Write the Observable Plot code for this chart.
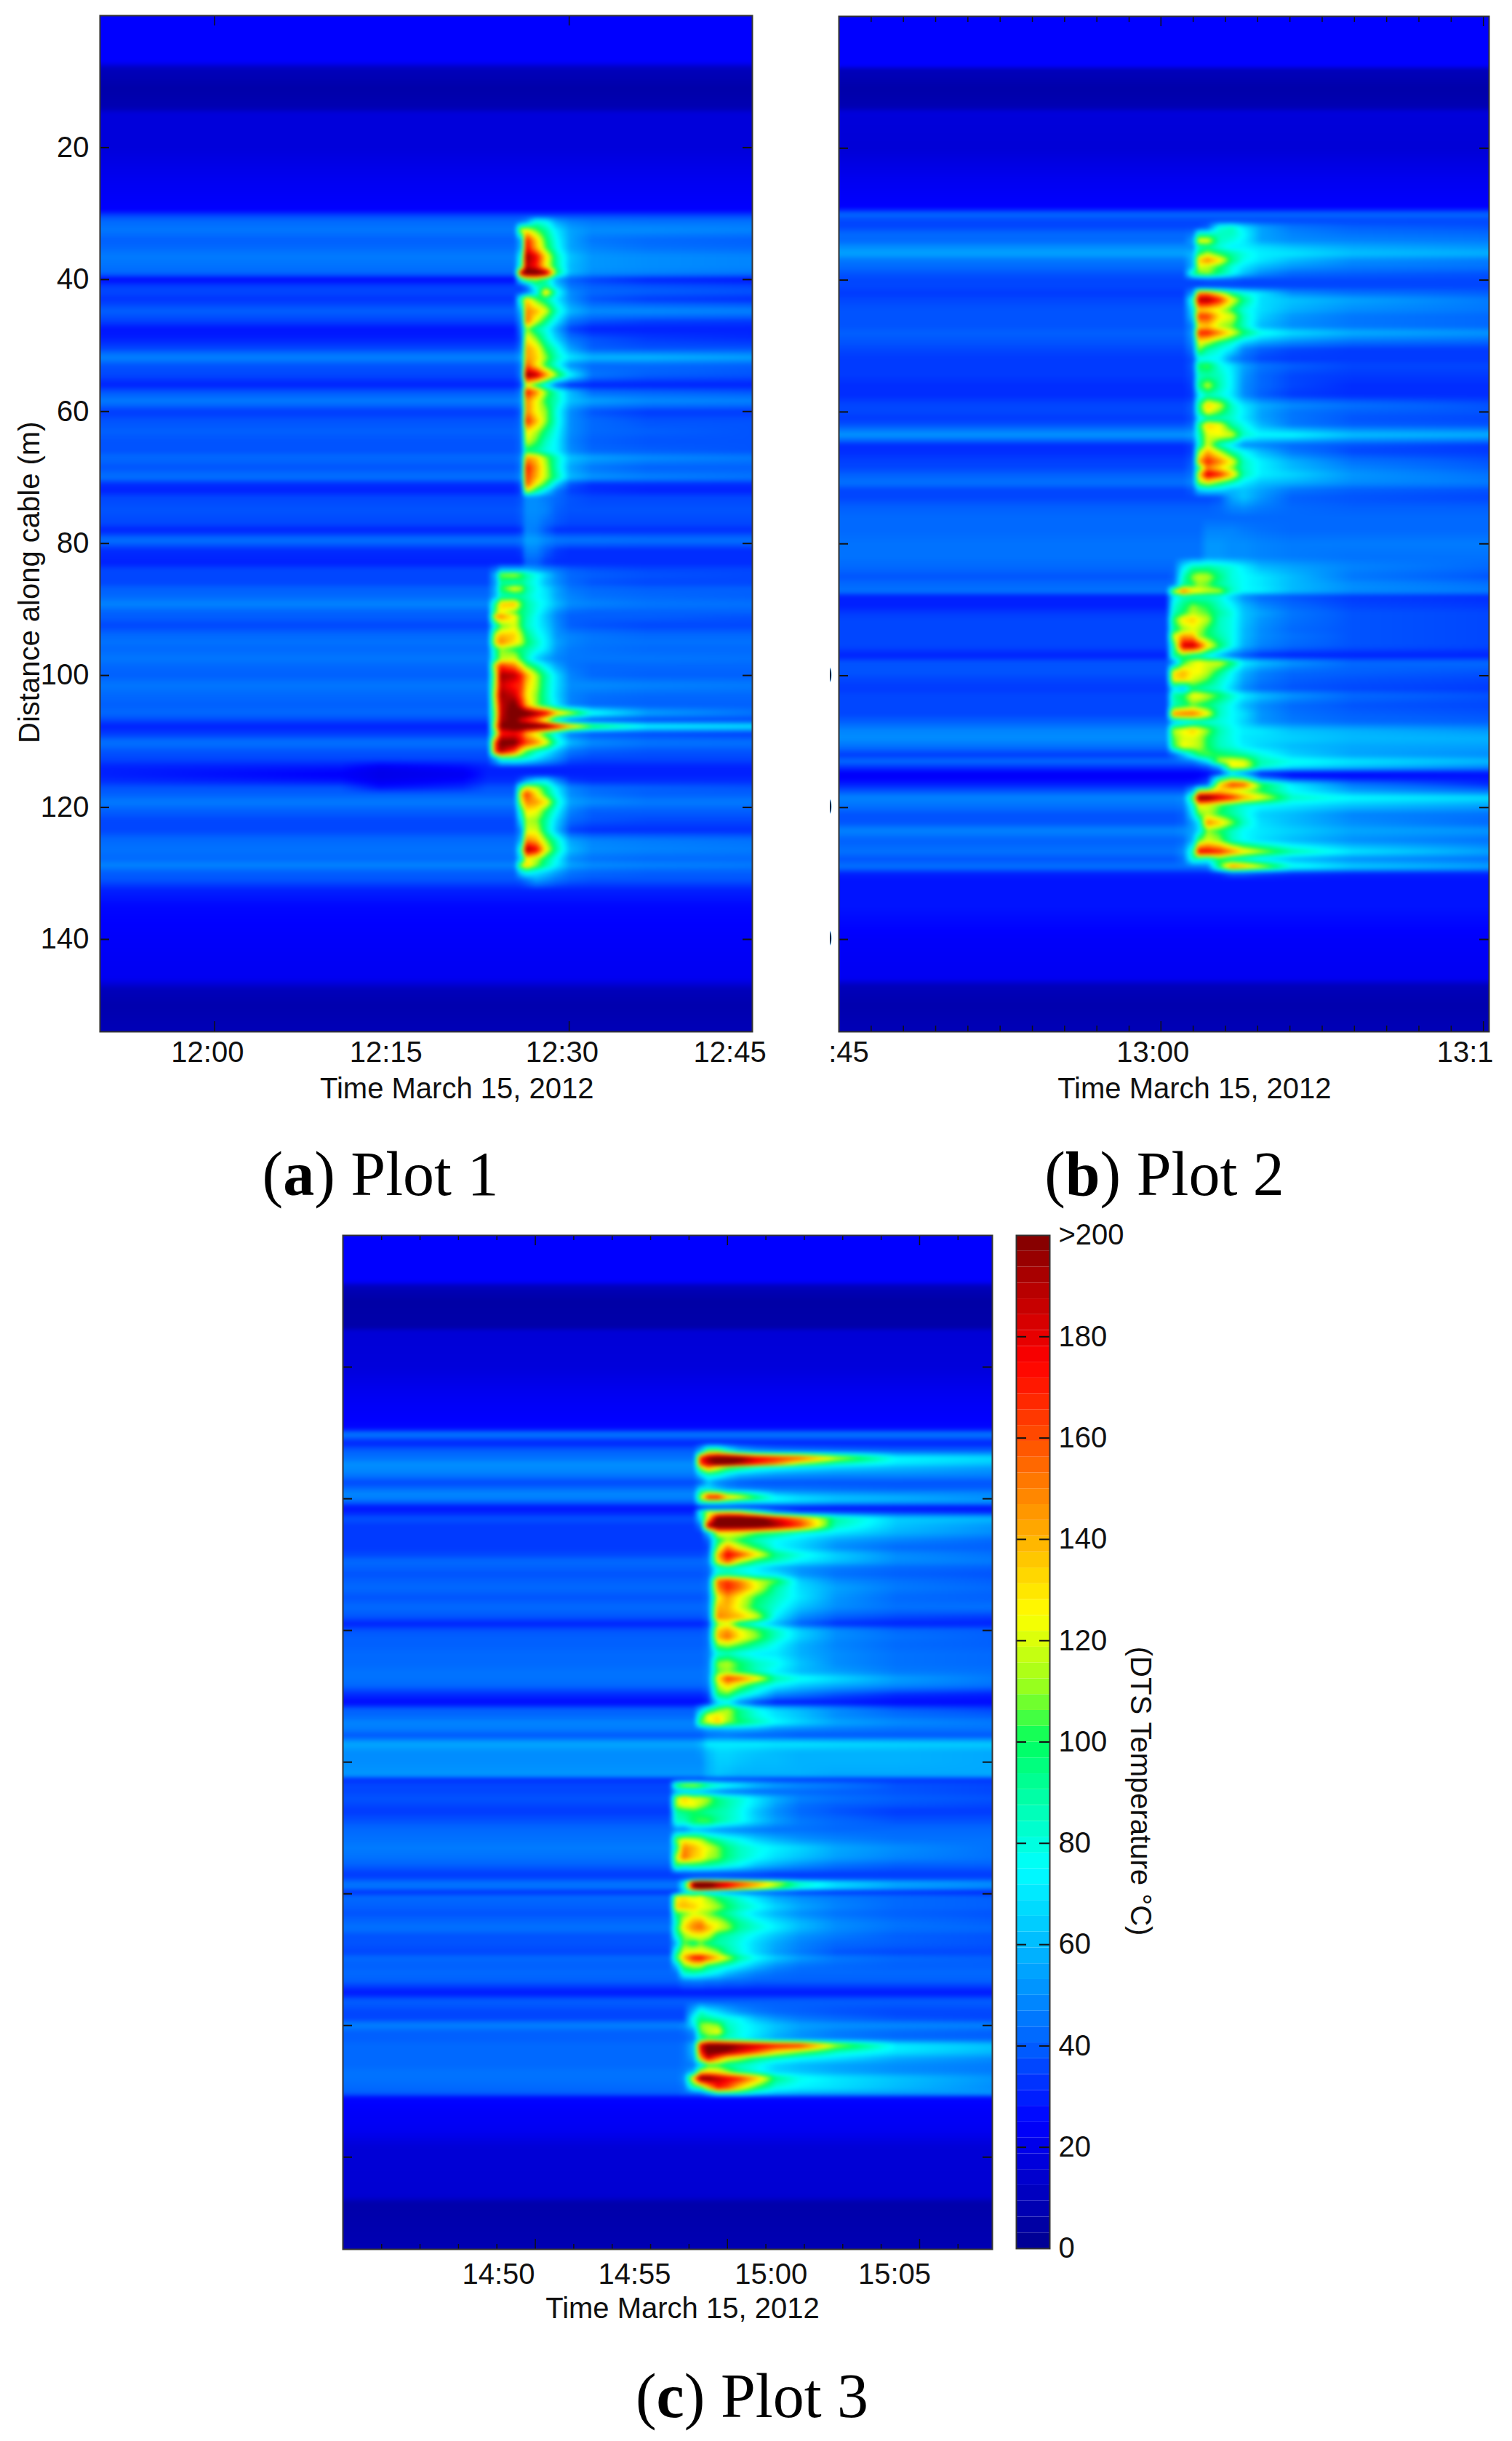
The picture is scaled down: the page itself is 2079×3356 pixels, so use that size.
<!DOCTYPE html>
<html><head><meta charset="utf-8">
<script src="https://cdn.jsdelivr.net/npm/d3@7"></script>
<script src="https://cdn.jsdelivr.net/npm/@observablehq/plot@0.6"></script>
<style>
html,body{margin:0;padding:0;background:#fff;width:2079px;height:3356px;overflow:hidden}
#page{position:relative;width:2079px;height:3356px}
#page>div{position:absolute}
.cap{font-family:"Liberation Serif",serif;font-size:86px;line-height:86px;white-space:nowrap;color:#000;transform:translateX(-50%)}
</style></head><body><div id="page"></div>
<script>
// Colour key
const colorStops=[0,25,40,75,85,100,110,125,175,200];
const colorValues=["#00008f","#0000ff","#0060ff","#00ffff","#00ffc0","#00ff60","#90ff20","#ffff00","#ff0000","#800000"];
const barTicks=[0,20,40,60,80,100,120,140,160,180,200];
const distanceTicks=[20,40,60,80,100,120,140];

// Panel a: minutes after 12:00. Each row: distance, background, then values aligned to the last columns
const timesA=[-9.7,10.6,14,21,23.1,23.82,24.23,25.36,25.94,26.39,27.21,28.03,28.96,30.09,31.94,36.66,45.5];
const edgesA=[[0,25],[7,25],[8,10],[11,6],[14,8],[14.8,17],[20,17],[25,22],[29.5,25],[30.3,36],[132.5,30],[135,26],[140,24],[146,22],[147.5,10],[150,7],[154,9]];
const dipA=[[10.6,114,28],[14,114,22],[21,114,26],[10.6,115,24],[14,115,20],[21,115,22],[10.6,116,28],[14,116,22],[21,116,26],[14,117,28],[21,117,32]];
const rowsA=[
[31.2,42,44,50,80,75,55,48,45,44,44],[32.5,45,120,125,105,90,70,55,50,50,48],[34,40,60,172,135,100,75,55,45,42,40],[35.2,42,60,178,140,105,78,55,48,44,42],
[36.5,46,80,197,178,130,88,62,52,50,48],[38,44,90,190,170,125,90,60,52,50,48],[39,42,190,215,215,195,100,60,50,48,45],[40,26,80,105,110,90,55,40,35,30,28],
[41,35,35,45,85,90,65,45,40,38,36],[41.9,36,36,40,70,135,80,50,42,40,38],[43,33,90,135,105,90,70,50,38,34,32],[44.8,40,60,150,140,120,85,60,50,50,48],
[46.3,35,50,155,120,95,70,45,38,35,34],[47.5,28,45,110,90,78,55,35,30,30,30],[49,30,40,130,110,85,65,45,38,34,32],[50.5,36,45,145,130,100,80,55,40,38,38],
[51.8,48,55,145,135,110,85,70,60,60,55],[53,38,45,160,130,100,78,50,42,42,40],[54.5,36,45,200,190,150,110,75,45,40,38],[56,30,35,120,95,72,40,30,30,30,30],
[57,38,45,175,150,110,85,60,42,40,38],[58.4,46,50,150,125,100,85,62,55,50,48],[60,34,40,150,125,110,78,50,38,34,34],[61.5,38,42,170,140,110,80,50,42,38,38],
[63,40,44,130,115,95,75,50,42,40,38],[64.5,38,42,120,105,85,72,48,40,38,38],[66,38,42,95,90,80,72,50,42,40,38],[67,42,48,145,135,110,85,62,55,50,46],
[68.5,38,44,172,145,115,85,55,45,40,40],[70,44,50,165,140,115,90,60,52,48,45],[71,32,38,160,125,100,65,38,32,32,32],[72,30,35,125,95,70,45,35,32,30,30],
[73,36,38,50,50,46,42,38,36,36,36],[75,38,40,50,50,48,40,38,38,38,38],[77,36,38,48,48,42,38,36,36,36,36],[78,30,32,48,46,38,32,32,32,32,32],
[79.5,44,46,55,54,50,46,45,45,44,44],[81,32,34,48,48,40,34,32,32,32,32],[83,30,30,40,40,34,32,32,32,32,32],
[84,36,45,60,60,60,60,55,50,45,40,38,36,36],[84.7,36,60,110,115,105,90,78,65,50,42,40,38,36],[86,36,55,90,85,90,85,75,60,50,42,38,36,36],[86.8,40,60,100,125,115,90,78,68,55,45,42,40,40],
[88,42,60,85,85,88,85,75,70,55,48,44,42,40],[89.2,48,100,135,140,105,90,80,72,60,50,48,45,44],[90.5,40,110,125,105,95,90,78,65,50,42,40,40,40],[91,40,145,150,125,100,88,75,62,48,40,40,40,38],
[92.5,36,80,105,120,100,85,75,65,50,40,38,36,36],[94,42,130,140,135,115,95,80,70,52,48,45,42,42],[95,44,135,150,130,118,100,85,72,55,48,45,44,44],[96,42,95,110,100,95,90,80,70,52,46,44,42,42],
[97.5,45,90,115,120,100,85,65,55,48,45,45,45,44],[98.5,42,140,165,150,125,105,90,72,55,45,42,42,42],[100,40,125,195,190,170,145,115,90,68,48,42,40,40],[101.5,45,130,185,170,165,135,115,88,68,50,50,48,46],
[103,42,140,195,185,160,130,110,88,66,48,44,42,42],[104.5,40,130,185,205,175,140,110,90,70,48,42,40,40],[105.7,42,120,185,210,215,210,195,180,140,120,80,55,45],[106.8,36,125,190,205,180,170,150,115,70,45,38,36,36],
[107.7,30,140,200,215,215,215,210,205,180,145,105,75,70],[108.8,34,110,170,175,165,140,120,95,70,45,38,36,34],[110.2,44,170,205,205,180,165,150,125,85,60,50,45,44],[111.5,38,170,190,160,125,105,85,75,60,45,40,38,38],
[112.6,36,60,85,88,85,80,70,60,50,38,36,36,36],[114,30],[115,30],
[116,32,40,55,70,72,50,34,32,32,32],[117,38,100,125,115,95,70,48,42,40,38],[118,40,135,165,130,100,75,50,44,40,40],[119.2,46,120,150,145,130,85,55,50,46,46],
[120.5,40,90,130,125,100,75,48,40,40,40],[122,36,70,115,110,90,65,42,38,36,36],[123.5,36,50,120,120,90,60,35,32,32,32],[125,42,60,150,140,110,85,55,48,46,44],
[126.4,44,90,195,180,125,90,60,50,48,46],[127.8,42,70,125,115,95,75,50,44,42,42],[128.8,48,115,135,110,90,72,55,50,48,46],[129.8,40,70,80,72,65,55,45,42,40,40],[131,38,40,45,55,50,44,40,38,38,38]];
const tickTimesA=[0,30];
const longTimesA=[0,30];
const labelTimesA=[-0.6,14.5,29.4,43.6];
const labelsA=["12:00","12:15","12:30","12:45"];

// Panel b: minutes after 13:00
const timesB=[-14.9,.63,.98,1.44,1.9,2.18,2.59,3.16,3.74,4.31,5.11,6.61,9.48,15.95];
const edgesB=[[0,25],[7.5,25],[8,10],[11,6],[13.8,8],[14.5,17],[20,16],[25,22],[29,25],[30,42],[31,36],[131,28],[135,28],[140,24],[146,22],[147,10],[150,7],[154,9]];
const rowsB=[
[32,36,36,36,40,80,85,70,55,45,40,38],[33,42,45,85,85,85,85,75,55,48,44,42],[34,42,55,125,125,85,80,72,55,50,48,46],[35,50,50,85,90,80,72,72,68,62,56,52],
[36,55,60,100,115,100,90,80,72,70,62,58],[37,45,60,135,150,130,95,78,70,60,50,46],[38,42,60,120,115,100,80,70,60,52,46,44],[39,38,90,105,110,95,78,62,50,42,40,38],
[40,36,36,36,38,38,38,36,36,36,36,36],[41,36],[42,34,55,150,150,125,95,80,70,50,44,40],[43,36,85,190,195,170,125,95,68,62,55,46],
[44.5,38,70,135,130,120,100,80,68,58,50,45],[45.5,38,65,165,165,130,120,85,65,52,45,42],[47,38,50,130,135,115,105,85,60,50,45,42],[48,40,55,170,172,150,125,100,80,68,58,52],
[49.5,38,50,125,115,95,82,65,55,48,42,40],[50.5,36,45,110,90,80,70,48,40,36,34,34],[52,34,38,75,75,72,50,42,36,34,34,34],[53,34,40,100,105,80,70,55,45,40,36,36],
[54.5,34,38,85,88,85,72,52,42,36,34,34],[56,32,36,95,118,88,72,50,42,36,32,32],[57.5,32,34,70,85,80,70,50,40,34,32,32],[59,36,40,95,135,120,85,70,58,50,44,38],
[60,36,40,90,125,105,85,72,55,45,40,38],[61,34,38,70,85,85,82,70,55,45,38,36],[62,38,42,95,135,125,90,78,60,46,40,38],[63.5,52,55,85,120,125,120,85,75,75,62,58],
[65,32,36,80,120,85,70,50,48,42,38,34],[66,32,36,110,140,115,88,75,60,45,36,34],[67.5,35,40,140,170,150,125,85,72,58,44,38],[68.5,36,42,95,150,130,110,85,72,60,48,40],
[69.5,40,45,130,185,170,135,88,72,66,52,44],[70.7,44,50,110,125,105,88,72,62,58,50,46],[71.8,36,40,65,70,68,60,62,55,45,40,38],[73,36,36,36,36,38,55,62,52,40,38,36],
[74.5,40,40,40,40,42,48,50,46,42,40,40],[76,42],[78,42,42,42,48,48,48,46,44,42,42,42],[80,44,44,44,52,52,50,50,48,46,46,46],[82,44,44,44,52,52,50,50,48,46,44,44],
[83.5,42,42,70,88,88,90,85,80,72,60,55,48,42],[85,38,40,85,110,118,115,95,80,75,70,60,45,38],[86.2,42,45,90,100,110,105,90,82,75,70,60,50,44],[87.2,44,115,155,130,125,118,115,85,75,72,60,50,46],
[88,30,70,85,85,85,85,80,65,50,42,38,34,32],[89.5,30,80,95,110,105,100,85,75,60,50,42,36,34],[90.5,34,85,100,115,110,105,90,80,62,55,45,38,36],[91.5,36,100,130,135,125,115,85,78,62,52,44,38,36],
[93,36,90,110,120,115,100,85,78,60,50,42,38,36],[94,36,120,145,140,110,100,88,78,60,50,44,38,36],[95.5,36,90,185,190,170,130,100,78,58,48,42,38,36],[97,30,90,100,85,85,75,60,45,38,32,30,30,30],
[98,38,50,100,120,125,120,120,100,72,62,52,42,42],[99.5,38,130,140,125,125,115,95,75,58,48,42,40,38],[100.5,36,130,135,120,115,105,85,72,55,46,40,38,36],[102,34,70,60,95,90,85,80,65,50,42,38,36,34],
[103,36,90,100,125,125,115,100,85,72,62,52,42,38],[104.5,36,85,95,105,100,95,85,75,60,50,42,38,36],[105.8,36,150,155,155,145,125,85,75,68,52,44,40,38],[107,40,60,70,75,80,80,80,75,65,52,46,42,40],
[108.3,48,115,125,135,125,110,88,78,72,70,62,58,52],[109.5,50,105,120,120,115,100,85,78,70,68,65,60,58],[110.7,44,100,125,120,115,100,85,80,72,66,60,56,54],[112,34,40,60,85,100,105,100,95,90,80,65,55,50],
[113,42,42,44,46,55,70,115,125,120,88,78,70,60],[113.8,34,34,34,34,36,40,60,125,125,85,70,62,50],[114.8,24,24,24,24,24,26,30,65,50,30,26,26,28],[115.5,24,24,24,24,26,30,80,100,90,45,30,28,28],
[116.5,30,30,30,32,34,40,130,165,160,105,72,45,32],[117.5,38,38,38,60,120,125,135,125,115,100,75,55,44],[118.5,48,48,50,105,205,205,185,170,145,125,85,75,68],[119.7,44,44,46,80,125,120,105,90,80,75,70,62,55],
[121,38,38,40,70,105,115,100,90,80,65,60,48,44],[122.3,38,38,40,55,70,150,135,110,85,68,60,50,42],[123.5,48,48,50,55,68,110,100,85,75,70,65,56,52],[125,40,40,42,60,105,120,110,85,75,68,60,50,44],
[126.7,44,44,50,90,180,180,170,150,130,115,90,70,55],[127.8,38,38,44,85,85,80,100,85,80,70,60,50,44],[129,44,44,44,44,44,46,100,150,140,120,80,65,55],[130,30,30,30,30,30,30,32,40,40,36,32,30,30]];
const tickTimesB=[-13.37,-11.84,-10.31,-8.78,-7.25,-5.72,-4.19,-2.66,-1.13,0.38,1.91,3.44,4.97,6.5,8.03,9.56,11.09,12.62,14.15,15.68];
const longTimesB=[0.38,15.68];
const labelTimesB=[-15.2,0,15.2];
const labelsB=["12:45","13:00","13:15"];
const clippedTicksB=[100,120,140];

// Panel c: minutes after 14:50
const timesC=[-5.71,6.27,6.53,6.8,7.16,7.42,7.69,8.05,8.4,8.84,9.47,10.18,11.07,12.4,14.62,18.12];
const edgesC=[[0,25],[7,25],[7.7,10],[10,5],[14,6],[14.5,16],[20,17],[24,22],[29.3,26],[30.2,46],[31.5,30],[131,26],[133,24],[136,22],[138.5,16],[146,15],[147,6],[154,8]];
const rowsC=[
[32.7,40,60,105,105,80,60,50,46,44,42,40,40],[33.8,44,170,195,210,215,205,180,170,160,120,75,68],[34.7,50,165,185,205,205,190,170,150,110,85,70,62],[35.2,50,120,150,125,110,100,85,78,72,66,60,54],
[36.3,46,70,88,85,72,62,58,54,52,50,50,48],[37.5,36,40,60,48,44,40,38,38,38,38,38,38],[38.5,42,70,70,60,52,48,46,44,44,42,40,40],[39,48,95,115,110,90,85,70,56,52,50,48,48],
[39.8,48,115,175,178,140,125,100,75,68,62,58,50],[40.4,42,90,100,100,90,80,75,72,66,60,56,52],[41.3,28,28,28,28,30,30,30,30,30,28,28,28],[42,30,80,120,120,125,120,85,50,34,34,32,30],
[43,38,70,130,210,215,215,210,180,150,90,65,60],[44.1,34,45,190,215,215,215,215,195,165,85,62,52],[45.2,34,34,60,125,125,120,105,95,80,70,58,50],[46.3,34,34,40,95,110,100,85,75,68,55,48,42],
[47.4,34,34,36,110,150,120,100,75,65,50,42,40],[48.5,36,36,40,140,180,165,130,95,80,65,50,44],[49.5,42,42,46,130,160,120,95,85,72,62,50,46],[50.5,40,40,42,80,85,80,72,60,52,46,42,40],
[51.5,38,38,40,85,88,82,75,70,52,44,40,38],[52.5,40,40,44,155,165,150,120,105,65,50,44,40],[53.5,42,42,46,150,170,155,125,90,68,55,46,42],[55,38,38,42,125,145,125,100,85,70,52,42,40],
[56.5,42,42,46,140,140,120,95,80,62,50,44,44],[58,38,38,42,150,145,140,120,72,50,40,36,34],[59,30,30,34,110,120,90,75,60,40,32,30,30],[60,38,38,42,135,145,125,105,85,65,50,42,40],
[61,40,40,44,140,155,130,110,85,65,50,44,40],[62.2,40,40,44,110,115,105,90,75,58,48,42,40],[63.5,42,42,46,80,85,78,72,70,58,50,44,42],[65,42,42,46,110,115,100,85,78,62,50,44,42],
[66.3,44,44,48,105,110,100,85,72,60,54,46,44],[67.3,44,44,48,130,165,155,130,90,78,68,54,46],[68.3,42,42,46,115,135,115,90,75,65,58,50,44],[69.7,32,32,36,100,105,85,70,50,45,38,32,30],
[71,26,26,30,65,72,50,34,28,28,28,26,26],[72,40,60,85,105,115,95,78,66,60,50,40,36],[73,42,90,125,130,115,95,80,70,62,50,44,40],[74,48,105,120,135,110,100,88,75,66,56,50,46],
[75,46,48,55,55,58,58,56,50,48,46,44,44],[76,38,38,42,44,44,42,40,40,38,38,38,38],[77.2,56,60,72,72,72,72,72,70,70,68,66,64],[78.5,50,52,60,66,66,64,62,60,58,58,58,56],
[80,50,50,58,64,64,62,60,60,58,58,58,56],[82,52,52,58,62,60,58,58,58,58,56,56,56],[82.6,32,32,34,34,34,34,34,33,33,33,33,33],
[83.5,36,100,115,118,110,95,85,78,72,62,55,50,46,38,36],[84.5,36,55,60,60,58,54,50,46,44,42,42,42,40,38,36],[85.5,38,115,135,120,120,112,95,88,82,70,58,48,44,40,38],[86.5,36,115,125,125,115,105,95,88,80,68,54,44,40,38,36],
[87.5,34,90,95,100,95,90,88,85,78,62,50,42,38,34,34],[89,38,85,85,100,105,105,92,85,78,65,54,46,42,38,38],[90.3,42,50,48,60,58,55,52,50,48,46,44,44,42,42,42],[91.8,44,110,125,120,115,100,90,82,76,65,58,52,48,44,44],
[93,46,90,150,140,130,122,108,95,85,78,72,66,56,50,44],[94.5,44,120,155,135,130,115,108,95,85,76,68,62,54,48,44],[95.7,40,100,90,95,92,90,85,80,74,62,56,50,44,40,40],[97,34,34,36,36,36,36,36,36,36,36,34,34,34,34,34],
[97.7,36,36,38,42,44,44,44,42,40,38,38,36,36,36,36],[98.3,44,44,75,195,215,210,190,180,165,145,120,85,68,56,50],[99.1,44,44,75,190,215,205,185,170,150,130,105,80,66,54,48],[99.7,32,32,60,72,72,62,58,52,48,42,38,34,32,32,30],[100.5,42,125,130,120,125,110,98,90,80,68,56,50,46,42,40],
[102,40,135,140,135,125,122,112,100,88,78,66,56,48,42,40],[103,38,100,105,120,115,108,98,90,80,68,58,50,44,40,38],[104.5,42,85,125,145,150,128,122,108,92,80,70,60,50,44,40],[105.2,44,95,130,150,155,140,122,112,92,82,72,60,50,44,42],
[106.3,38,85,110,125,125,120,95,88,82,72,62,52,46,40,38],[107.5,38,60,105,95,105,95,88,85,78,66,56,48,42,40,38],[109,36,90,125,130,130,125,112,92,80,66,54,46,38,36,36],[109.7,42,100,140,175,178,160,138,118,92,76,64,54,46,42,40],
[111,40,60,105,115,115,95,88,80,72,60,50,44,42,40,40],[112,42,44,85,90,85,80,72,62,55,48,44,42,42,42,42],[113.3,40,40,45,46,46,44,44,42,42,40,40,40,40,40,40],[115,28],[116.3,40],
[118,36,36,36,62,85,75,68,60,52,46,42,40,38,36,36],[119,36,36,36,80,95,92,85,80,75,60,52,46,42,38,36],[120,48,48,50,70,110,115,110,85,78,70,62,55,52,50,48],[121,40,40,42,50,105,115,125,90,78,70,60,52,46,42,40],
[122,40,40,40,46,85,100,90,82,78,66,56,50,46,42,40],[123,42,42,44,60,180,205,210,205,195,185,175,170,115,72,62],[124,42,42,44,60,170,205,205,195,180,160,130,110,85,70,60],[125,42,42,44,55,140,180,150,125,115,95,85,75,68,56,50],
[126,42,42,44,46,65,100,100,90,85,78,66,60,55,50,46],[127,44,44,46,60,125,130,125,110,90,78,66,62,56,50,46],[128,44,44,50,140,205,205,190,180,170,140,95,78,70,62,52],[129.5,42,42,44,80,90,130,170,160,130,100,78,72,68,60,50],[130.3,40,40,42,44,46,60,85,85,85,70,62,58,56,54,52]];
const tickTimesC=[-4.29,-2.88,-1.47,-0.06,1.35,2.76,4.17,5.58,6.99,8.4,9.81,11.22,12.63,14.04,15.45,16.86];
const longTimesC=[1.35,8.4,15.45];
const labelTimesC=[0,4.99,10,14.53];
const labelsC=["14:50","14:55","15:00","15:05"];

const FONT="'Liberation Sans',Arial,sans-serif";
const colorOpts={type:"linear",domain:colorStops,range:colorValues,clamp:true,interpolate:"rgb"};
const page=document.getElementById("page");
function place(node,left,top){const d=document.createElement("div");d.style.left=left+"px";d.style.top=top+"px";d.appendChild(node);page.appendChild(d);}
// Table of the values, looked up by the raster mark
function table(times,rows,edges,extra){
  const n=times.length;
  const all=[...rows,...edges].slice().sort((a,b)=>a[0]-b[0]);
  const ds=all.map(r=>r[0]);
  const vs=all.map(([d,base,...tail])=>times.map((_,i)=>{const j=i-(n-tail.length);return j>=0?tail[j]:base;}));
  for(const [t,d,v] of extra||[]){vs[ds.indexOf(d)][times.indexOf(t)]=v;}
  const bi=(arr,x)=>{const i=Math.min(arr.length-2,Math.max(0,d3.bisectRight(arr,x)-1));return [i,Math.min(1,Math.max(0,(x-arr[i])/(arr[i+1]-arr[i])))];};
  return (t,d)=>{const [r,fr]=bi(ds,d),[c,fc]=bi(times,t);
    const a=vs[r][c]*(1-fc)+vs[r][c+1]*fc,b=vs[r+1][c]*(1-fc)+vs[r+1][c+1]*fc;return a*(1-fr)+b*fr;};
}
function heat(o){
  const W=o.width-o.ml-o.mr, side=W-13, H=o.height-o.mt-o.mb;
  const shortT=o.ticks.filter(t=>!o.long.includes(t));
  const t0=o.times[0],t1=o.times[o.times.length-1];
  const marks=[
    Plot.raster({fill:table(o.times,o.rows,o.edges,o.extra),x1:t0,x2:t1,y1:154,y2:0,pixelSize:1,blur:2}),
    Plot.tickY(distanceTicks,{y:d=>d,insetRight:side,stroke:"#111",strokeWidth:2}),
    Plot.tickY(distanceTicks,{y:d=>d,insetLeft:side,stroke:"#111",strokeWidth:2}),
    Plot.tickX(shortT,{x:d=>d,insetBottom:H-o.short,stroke:"#111",strokeWidth:1.5}),
    Plot.tickX(shortT,{x:d=>d,insetTop:H-o.short,stroke:"#111",strokeWidth:1.5}),
    Plot.tickX(o.long,{x:d=>d,insetBottom:H-14,stroke:"#111",strokeWidth:1.5}),
    Plot.tickX(o.long,{x:d=>d,insetTop:H-14,stroke:"#111",strokeWidth:1.5}),
    Plot.frame({stroke:"#333",strokeWidth:2}),
    Plot.axisX({ticks:o.labelTimes,tickFormat:(d,i)=>o.labels[i],tickSize:0,tickPadding:o.pad,label:null,fontSize:40}),
    Plot.text(["Time March 15, 2012"],{x:()=>o.titleT,frameAnchor:"bottom",dy:o.titleDy,text:d=>d,fontSize:40,lineAnchor:"middle"})
  ];
  if(o.yAxis){
    marks.push(Plot.axisY({ticks:distanceTicks,tickSize:0,tickPadding:15,label:null,fontSize:40}));
    marks.push(Plot.text(["Distance along cable (m)"],{y:()=>85.9,frameAnchor:"left",textAnchor:"middle",dx:-96,rotate:-90,text:d=>d,fontSize:40}));
  }
  if(o.clipped){
    marks.push(Plot.text(o.clipped,{y:d=>d,text:()=>"0",frameAnchor:"left",dx:-9,textAnchor:"end",fontSize:40}));
  }
  return Plot.plot({width:o.width,height:o.height,marginLeft:o.ml,marginRight:o.mr,marginTop:o.mt,marginBottom:o.mb,
    x:{domain:[t0,t1],axis:null},y:{domain:[154,0],axis:null},color:colorOpts,
    style:{fontFamily:FONT,fontSize:"40px",background:"transparent",color:"#111"},marks});
}
place(heat({width:1060,height:1528,ml:137,mr:26,mt:21,mb:110,times:timesA,rows:rowsA,edges:edgesA,extra:dipA,ticks:tickTimesA,long:longTimesA,short:8,labelTimes:labelTimesA,labels:labelsA,titleT:20.5,titleDy:79,pad:13,yAxis:true}),0,0);
place(heat({width:911,height:1528,ml:12,mr:5,mt:22,mb:110,times:timesB,rows:rowsB,edges:edgesB,ticks:tickTimesB,long:longTimesB,short:8,labelTimes:labelTimesB,labels:labelsB,titleT:1.97,titleDy:79,pad:13,clipped:clippedTicksB}),1141,0);
place(heat({width:912,height:1512,ml:11,mr:8,mt:8,mb:110,times:timesC,rows:rowsC,edges:edgesC,ticks:tickTimesC,long:longTimesC,short:7,labelTimes:labelTimesC,labels:labelsC,titleT:6.75,titleDy:82,pad:19}),460,1690);

// colour bar
const barLevels=d3.range(0,200,3.125);
const bar=Plot.plot({width:250,height:1480,marginLeft:7,marginRight:197,marginTop:38,marginBottom:49,
  x:{domain:[0,1],axis:null},y:{domain:[0,200],axis:null},color:colorOpts,
  style:{fontFamily:FONT,fontSize:"40px",background:"transparent",color:"#111"},
  marks:[
    Plot.rect(barLevels,{x1:0,x2:1,y1:d=>d,y2:d=>d+3.125,fill:d=>d+1.56}),
    Plot.tickY(barTicks.slice(1,-1),{y:d=>d,insetRight:32,stroke:"#111",strokeWidth:2}),
    Plot.tickY(barTicks.slice(1,-1),{y:d=>d,insetLeft:32,stroke:"#111",strokeWidth:2}),
    Plot.frame({stroke:"#333",strokeWidth:2}),
    Plot.axisY({anchor:"right",ticks:barTicks,tickSize:0,tickPadding:12,label:null,fontSize:40,textAnchor:"start",tickFormat:d=>d===200?">200":String(d)}),
    Plot.text(["(DTS Temperature °C)"],{y:()=>90.3,frameAnchor:"right",textAnchor:"middle",dx:124,rotate:90,text:d=>d,fontSize:40})
  ]});
place(bar,1390,1660);

// captions
const captions=[["a","Plot 1",523,1571],["b","Plot 2",1601,1571],["c","Plot 3",1034,3251]];
for(const [letter,name,cx,top] of captions){
  const d=document.createElement("div");d.className="cap";d.style.left=cx+"px";d.style.top=top+"px";
  d.innerHTML="(<b>"+letter+"</b>) "+name;page.appendChild(d);
}
</script></body></html>
